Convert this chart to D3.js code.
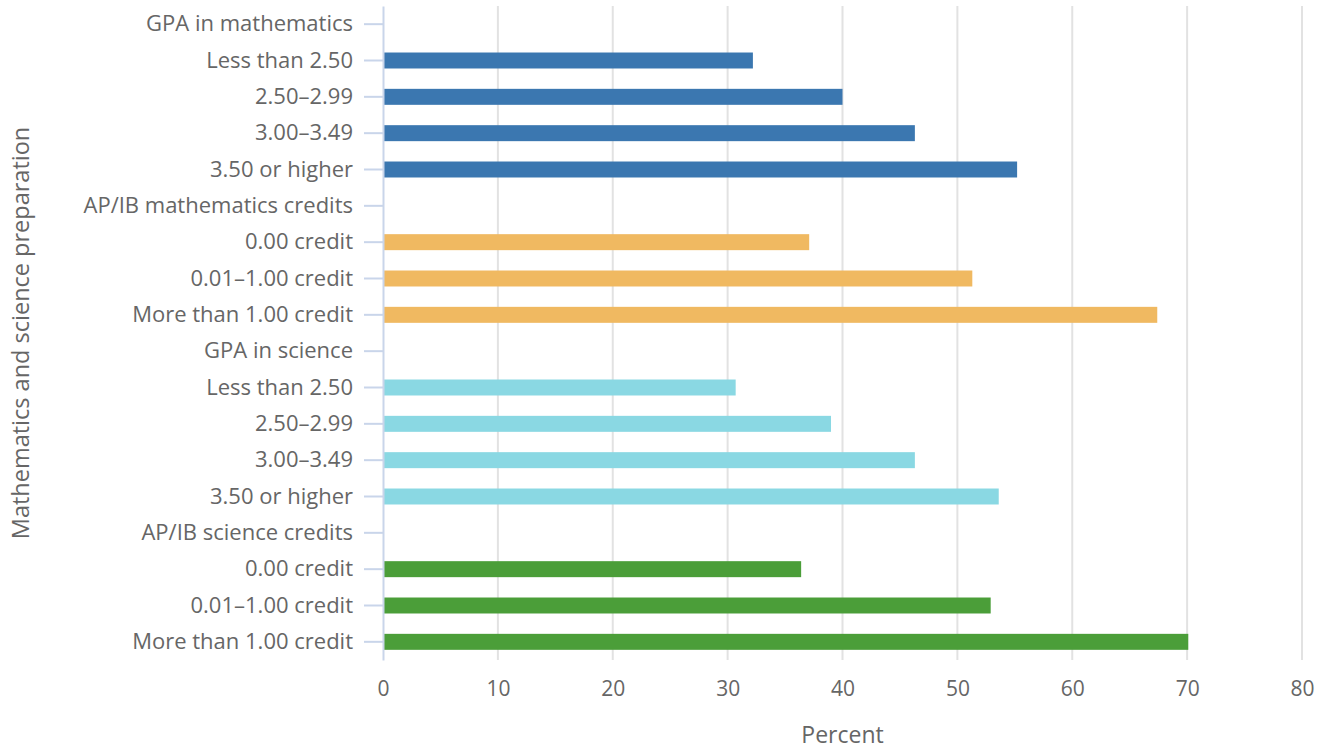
<!DOCTYPE html>
<html>
<head>
<meta charset="utf-8">
<script src="https://cdn.jsdelivr.net/npm/d3@7"></script>
<style>
  body { margin: 0; background: #fff; }
  text { font-family: "Open Sans", sans-serif; }
</style>
</head>
<body>
<div id="chart"></div>
<script>
// categories top to bottom; null value = group header row (no bar)
const categories = [
  "GPA in mathematics", "Less than 2.50", "2.50–2.99", "3.00–3.49", "3.50 or higher",
  "AP/IB mathematics credits", "0.00 credit", "0.01–1.00 credit", "More than 1.00 credit",
  "GPA in science", "Less than 2.50 ", "2.50–2.99 ", "3.00–3.49 ", "3.50 or higher ",
  "AP/IB science credits", "0.00 credit ", "0.01–1.00 credit ", "More than 1.00 credit "
];
const values = [
  null, 32.2, 40.0, 46.3, 55.2,
  null, 37.1, 51.3, 67.4,
  null, 30.7, 39.0, 46.3, 53.6,
  null, 36.4, 52.9, 70.1
];
const groups = [0, 0, 0, 0, 0, 1, 1, 1, 1, 2, 2, 2, 2, 2, 3, 3, 3, 3];
const groupColors = ["#3b77b0", "#f0b961", "#8ad8e3", "#4b9e39"];
const xTicks = [0, 10, 20, 30, 40, 50, 60, 70, 80];

const width = 1327, height = 750;
const margin = { top: 6, right: 25, bottom: 90, left: 383 };

const svg = d3.select("#chart").append("svg")
  .attr("width", width)
  .attr("height", height);

const x = d3.scaleLinear().domain([0, 80]).range([margin.left, width - margin.right]);
const y = d3.scaleBand().domain(categories).range([margin.top, height - margin.bottom]).paddingInner(0.56).paddingOuter(0.28);

// vertical gridlines
svg.append("g")
  .selectAll("line")
  .data(xTicks.slice(1))
  .join("line")
  .attr("x1", d => x(d)).attr("x2", d => x(d))
  .attr("y1", margin.top).attr("y2", height - margin.bottom)
  .attr("stroke", "#e2e2e2")
  .attr("stroke-width", 2);

// bars
svg.append("g")
  .selectAll("rect")
  .data(categories.map((c, i) => ({ c, v: values[i], g: groups[i] })).filter(d => d.v != null))
  .join("rect")
  .attr("x", x(0))
  .attr("y", d => y(d.c))
  .attr("width", d => x(d.v) - x(0))
  .attr("height", y.bandwidth())
  .attr("fill", d => groupColors[d.g]);

// y axis
const yAxis = svg.append("g")
  .attr("transform", `translate(${margin.left},0)`)
  .call(d3.axisLeft(y).tickSize(19).tickPadding(11).tickSizeOuter(0).tickFormat(d => d.trim()));
yAxis.select(".domain").attr("stroke", "#c9d5ea").attr("stroke-width", 2);
yAxis.selectAll(".tick line").attr("stroke", "#c9d5ea").attr("stroke-width", 2);
yAxis.selectAll(".tick text")
  .attr("font-family", "Open Sans, sans-serif")
  .attr("font-size", "22px")
  .attr("fill", "#666");

// x axis labels (no axis line)
const xAxis = svg.append("g")
  .attr("transform", `translate(0,${height - margin.bottom})`)
  .call(d3.axisBottom(x).tickValues(xTicks).tickSize(0).tickPadding(21));
xAxis.select(".domain").remove();
xAxis.selectAll(".tick text")
  .attr("font-family", "Open Sans, sans-serif")
  .attr("font-size", "21px")
  .attr("fill", "#666");

// axis titles
svg.append("text")
  .attr("x", x(40))
  .attr("y", 743)
  .attr("text-anchor", "middle")
  .attr("font-size", "23px")
  .attr("fill", "#666")
  .text("Percent");

svg.append("text")
  .attr("transform", `translate(29,${(margin.top + height - margin.bottom) / 2}) rotate(-90)`)
  .attr("text-anchor", "middle")
  .attr("font-size", "23.5px")
  .attr("fill", "#666")
  .text("Mathematics and science preparation");
</script>
</body>
</html>
